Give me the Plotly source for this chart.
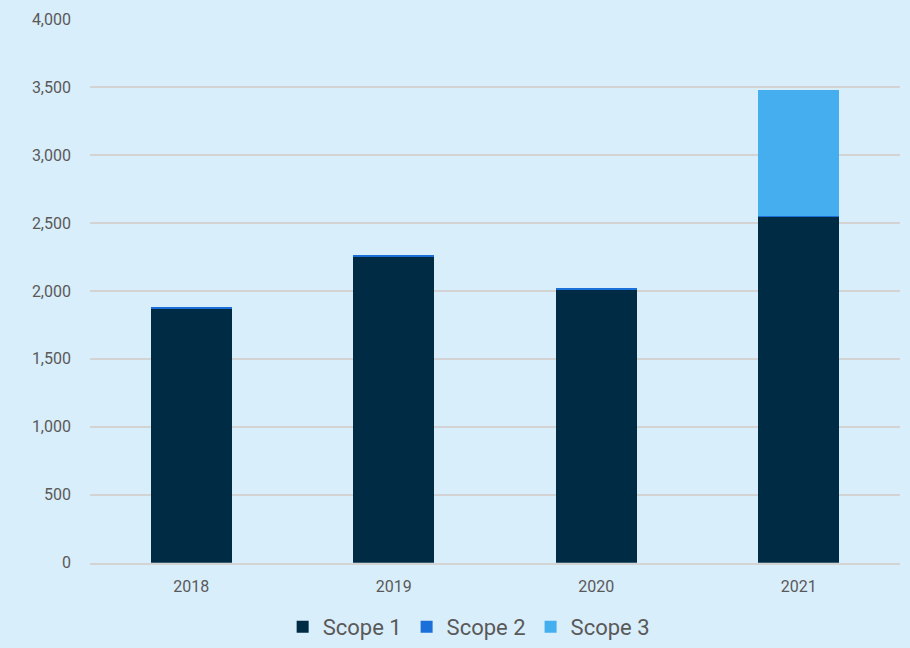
import plotly.graph_objects as go

years = ["2018", "2019", "2020", "2021"]
scope1 = [1872, 2252, 2010, 2545]
scope2 = [5, 5, 5, 8]
scope3 = [0, 0, 0, 922]

colors = {"Scope 1": "#002B45", "Scope 2": "#1A6FD9", "Scope 3": "#45AEEF"}

fig = go.Figure()
for name, vals in [("Scope 1", scope1), ("Scope 2", scope2), ("Scope 3", scope3)]:
    fig.add_trace(go.Bar(x=years, y=vals, name=name,
                         marker=dict(color=colors[name], line=dict(width=0))))

fig.update_layout(
    barmode="stack",
    bargap=0.6,
    width=910, height=648,
    paper_bgcolor="#D9EEFB",
    plot_bgcolor="#D9EEFB",
    margin=dict(l=90, r=10, t=17, b=84),
    font=dict(family="Roboto", color="#595959", size=16),
    legend=dict(orientation="h", x=0.515, xanchor="center", xref="container",
                y=-0.012, yanchor="bottom", yref="container",
                font=dict(size=22, color="#595959"), itemsizing="constant",
                itemwidth=30, traceorder="normal"),
    showlegend=True,
)
fig.update_yaxes(range=[0, 4000], dtick=500, tickformat=",", showgrid=True,
                 gridcolor="#D3D3D3", gridwidth=2, zeroline=False,
                 ticks="", ticklabelstandoff=18, showline=False)
fig.update_xaxes(showline=True, linecolor="#D3D3D3", linewidth=2, ticks="",
                 ticklabelstandoff=8, tickfont=dict(size=16))

fig.write_html("out.html")
